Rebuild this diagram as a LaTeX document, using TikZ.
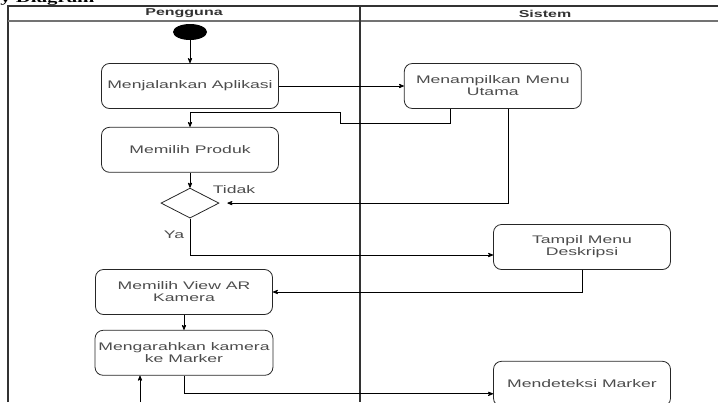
\documentclass[tikz,border=0pt]{standalone}
\usepackage{fontspec}
\setmainfont{Liberation Sans}[FakeStretch=1.6]
\newfontfamily\titlefont{Liberation Serif}[FakeStretch=1.6]
\usepackage{tikz}
\usetikzlibrary{arrows,shapes.geometric}
\usetikzlibrary{positioning}
\tikzset{
    act/.style = {draw=black!85, rounded corners=8pt, line width=0.8pt,
                 minimum width=177pt, minimum height=45pt, align=center,
                 text=black!70, font=\fontsize{11}{12}\selectfont},
    lane/.style = {draw=black!80, line width=1.2pt},
    lanehead/.style = {font=\bfseries\fontsize{10}{11}\selectfont, text=black!80},
    lbl/.style = {text=black!70, font=\fontsize{11}{12}\selectfont},
}

\begin{document}
\begin{tikzpicture}[x=1pt,y=-1pt,->,>=stealth',line width=0.8pt]
 \useasboundingbox (0,0) rectangle (718,402);
 \node (title) [anchor=base west, inner sep=0] at (0,2.5) {\titlefont\bfseries\fontsize{13}{14}\selectfont y Diagram};
 % swimlanes
 \draw[lane,-] (8,402) |- (718,6);
 \draw[lane,-,draw=black!55] (8,21) -- (718,21);
 \draw[lane,-] (360,6) -- (360,402);
 \node (pengguna) [lanehead] at (184,13.5) {Pengguna};
 \node (sistem) [lanehead] at (545,13.5) {Sistem};

 \node (start) [ellipse, fill=black, minimum width=34pt, minimum height=16pt, inner sep=0] at (190,32) {};
 \node (jalan) [act] at (190,86) {Menjalankan Aplikasi};
 \node (menu) [act, right=125pt of jalan] {Menampilkan Menu\\Utama};
 \node (produk) [act, below=18pt of jalan] {Memilih Produk};
 \node (dec) [draw=black!85, diamond, aspect=1.93, minimum width=58pt, minimum height=30pt, inner sep=0, below=15pt of produk] {};
 \node (tidak) [lbl] at (234,190) {Tidak};
 \node (ya) [lbl] at (174,235) {Ya};
 \node (tampil) [act] at (582,247) {Tampil Menu\\Deskripsi};
 \node (view) [act] at (184,292) {Memilih View AR\\Kamera};
 \node (arah) [act, below=15pt of view] {Mengarahkan kamera\\ke Marker};
 \node (deteksi) [act, below=91pt of tampil] {Mendeteksi Marker};
 \coordinate (back) at (140,402);

\draw[->] (start) to (jalan);
\draw[->] (jalan) to (menu);
\draw[->] ([xshift=-42pt]menu.south) -- ++(0,14.5) -| (340,112) -| (produk.north);
\draw[->] (produk) to (dec);
\draw[->,shorten >=8pt] ([xshift=16pt]menu.south) |- (dec.east);
\draw[->] (dec.south) |- ([yshift=-8pt]tampil.west);
\draw[->] (tampil.south) |- (view.east);
\draw[->] (view) to (arah);
\draw[->] (arah.south) |- ([yshift=-10pt]deteksi.west);
\draw[->] (back) to ([xshift=-44pt]arah.south);
\end{tikzpicture}
\end{document}
